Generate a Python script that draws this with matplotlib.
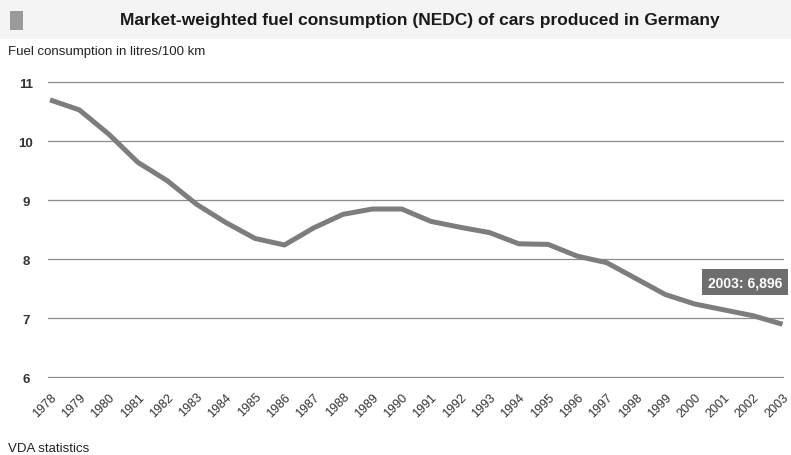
import matplotlib
matplotlib.use("Agg")
import matplotlib.pyplot as plt
from matplotlib.patches import Rectangle

years = list(range(1978, 2004))
consumption = [10.70, 10.53, 10.12, 9.64, 9.33, 8.93, 8.62, 8.35, 8.24, 8.53,
               8.76, 8.85, 8.85, 8.64, 8.54, 8.45, 8.26, 8.25, 8.05, 7.94,
               7.67, 7.40, 7.24, 7.14, 7.04, 6.896]
yticks = [6, 7, 8, 9, 10, 11]
title = "Market-weighted fuel consumption (NEDC) of cars produced in Germany"
ylabel = "Fuel consumption in litres/100 km"
source = "VDA statistics"
end_label = "2003: 6,896"

fam = ['Liberation Sans', 'DejaVu Sans']
plt.rcParams['font.family'] = fam

fig = plt.figure(figsize=(7.91, 4.56), dpi=100)
fig.patch.set_facecolor('white')

# title band
fig.patches.append(Rectangle((0, 1 - 40/456), 1, 40/456, transform=fig.transFigure,
                             facecolor='#f4f4f4', edgecolor='none', zorder=0))
fig.patches.append(Rectangle((10/791, 1 - 31/456), 13/791, 19/456, transform=fig.transFigure,
                             facecolor='#9a9a9a', edgecolor='none', zorder=1))
fig.text(420/791, 1 - 20/456, title, ha='center', va='center', fontsize=12.5,
         fontweight='bold', color='#1a1a1a')
fig.text(8/791, 1 - 52/456, ylabel, ha='left', va='center', fontsize=9.5, color='#222222')
fig.text(8/791, 1 - 449/456, source, ha='left', va='center', fontsize=9.5, color='#222222')

ax = fig.add_axes([48/791, 1 - 379/456, (784 - 48)/791, (379 - 82)/456])
ax.set_facecolor('none')
ax.plot(years, consumption, color='#7d7d7d', linewidth=3.6, solid_capstyle='butt',
        solid_joinstyle='round', zorder=3)
ax.set_xlim(1977.93, 2003.05)
ax.set_ylim(5.985, 11.02)
ax.set_yticks(yticks)
ax.set_yticklabels([str(v) for v in yticks], fontsize=9.5, fontweight='bold', color='#333333')
ax.grid(axis='y', color='#8c8c8c', linewidth=0.9)
ax.set_axisbelow(True)
ax.set_xticks(years)
ax.set_xticklabels([str(y) for y in years], rotation=45, ha='right', va='top',
                   rotation_mode='anchor', fontsize=9, color='#333333')
ax.tick_params(axis='x', length=0, pad=9)
ax.tick_params(axis='y', length=0, pad=16)
for lbl in ax.get_yticklabels():
    lbl.set_horizontalalignment('center')
for s in ax.spines.values():
    s.set_visible(False)

ax.annotate(end_label, xy=(years[-1], consumption[-1]), xytext=(2001.72, 7.61),
            textcoords='data', ha='center', va='center', fontsize=10, fontweight='bold',
            color='white',
            bbox=dict(boxstyle='square,pad=0.45', facecolor='#6e6e6e', edgecolor='none'))

fig.savefig('out.png', dpi=100, facecolor='white')
